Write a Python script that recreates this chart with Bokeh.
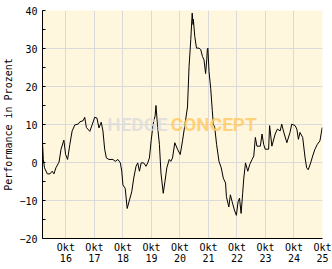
from bokeh.plotting import figure
from bokeh.models import FixedTicker, Range1d, Label
from bokeh.embed import file_html
from bokeh.resources import INLINE

# decimal years and performance in percent
years = [2015.93, 2015.96, 2016.00, 2016.10, 2016.19, 2016.27, 2016.33, 2016.40, 2016.51, 2016.58,
         2016.68, 2016.74, 2016.81, 2016.89, 2016.97, 2017.065, 2017.18, 2017.24, 2017.355, 2017.41,
         2017.47, 2017.59, 2017.68, 2017.76, 2017.84, 2017.91, 2017.99, 2018.05, 2018.11, 2018.17,
         2018.26, 2018.40, 2018.48, 2018.575, 2018.66, 2018.71, 2018.75, 2018.83, 2018.90, 2018.98,
         2019.06, 2019.13, 2019.21, 2019.27, 2019.33, 2019.39, 2019.48, 2019.56, 2019.62, 2019.68,
         2019.74, 2019.81, 2019.88, 2019.91, 2019.97, 2020.03, 2020.085, 2020.165, 2020.225, 2020.29,
         2020.375, 2020.43, 2020.49, 2020.57, 2020.665, 2020.76, 2020.84, 2020.92, 2021.015, 2021.07,
         2021.13, 2021.18, 2021.21, 2021.22, 2021.27, 2021.33, 2021.42, 2021.48, 2021.54, 2021.595,
         2021.65, 2021.69, 2021.71, 2021.73, 2021.77, 2021.83, 2021.885, 2021.92, 2021.97, 2022.035,
         2022.12, 2022.20, 2022.27, 2022.35, 2022.38, 2022.465, 2022.52, 2022.58, 2022.66, 2022.73,
         2022.79, 2022.84, 2022.895, 2022.95, 2022.99, 2023.05, 2023.13, 2023.20, 2023.28, 2023.34,
         2023.395, 2023.45, 2023.57, 2023.63, 2023.685, 2023.74, 2023.86, 2023.895, 2023.975, 2024.09,
         2024.17, 2024.265, 2024.32, 2024.38, 2024.50, 2024.61, 2024.67, 2024.79, 2024.85, 2024.905,
         2024.96, 2025.055, 2025.14, 2025.195, 2025.25, 2025.335, 2025.405, 2025.485, 2025.57, 2025.66,
         2025.74]
perf = [5.2, 0.8, -1.4, -3.0, -3.0, -2.3, -3.0, -1.4, 0.1, 3.5,
        5.9, 2.1, 0.8, 4.8, 8.3, 9.9, 10.1, 10.7, 11.0, 11.9,
        9.2, 8.2, 10.1, 11.9, 11.7, 9.1, 10.6, 8.3, 3.5, 1.2,
        0.8, 0.8, 0.3, 0.8, -0.1, -2.3, -5.9, -6.8, -12.1, -9.9,
        -7.7, -4.1, -1.0, -0.1, -2.3, -0.1, -0.1, -1.0, -0.1, 1.2,
        5.7, 10.1, 12.3, 15.0, 9.2, 4.8, -2.8, -8.1, -5.0, -1.4,
        0.8, 0.3, 1.2, 5.2, 3.5, 2.1, 5.7, 9.7, 14.6, 25.2,
        32.3, 39.3, 36.3, 37.7, 33.2, 30.1, 30.1, 29.7, 27.9, 27.0,
        23.4, 27.0, 29.7, 30.1, 23.9, 19.4, 13.7, 10.1, 9.2, 4.8,
        0.3, -1.4, -4.1, -5.4, -9.0, -11.7, -8.5, -10.3, -12.5, -13.9,
        -10.3, -9.4, -13.4, -8.1, -4.1, -0.1, -2.3, -0.5, 0.8, 1.7,
        6.6, 4.3, 4.3, 7.5, 4.8, 3.5, 3.5, 9.7, 4.3, 7.5,
        8.8, 8.3, 10.1, 8.3, 5.2, 7.9, 10.1, 9.7, 8.8, 6.1,
        7.9, 6.6, 1.2, -1.4, -1.9, -0.1, 1.7, 3.5, 4.8, 5.7,
        9.2]

x_ticks = [2016.75, 2017.75, 2018.75, 2019.75, 2020.75, 2021.75, 2022.75, 2023.75, 2024.75, 2025.75]
x_labels = ["Okt\n16", "Okt\n17", "Okt\n18", "Okt\n19", "Okt\n20",
            "Okt\n21", "Okt\n22", "Okt\n23", "Okt\n24", "Okt\n25"]
y_ticks = [-20, -10, 0, 10, 20, 30, 40]
y_minor = [-15, -5, 5, 15, 25, 35]
y_title = "Performance in Prozent"

FONT = "DejaVu Sans Mono"

p = figure(width=332, height=269, output_backend="svg", toolbar_location=None,
           x_range=Range1d(years[0], x_ticks[-1]), y_range=Range1d(-20, 40),
           min_border_left=41, min_border_right=10, min_border_top=10, min_border_bottom=31)
p.background_fill_color = "#FFF6DE"
p.border_fill_color = "white"
p.outline_line_color = None

p.xaxis.ticker = FixedTicker(ticks=x_ticks)
p.xaxis.major_label_overrides = dict(zip(x_ticks, x_labels))
p.yaxis.ticker = FixedTicker(ticks=y_ticks, minor_ticks=y_minor)
p.yaxis.axis_label = y_title

for ax in (p.xaxis, p.yaxis):
    ax.axis_line_color = "black"
    ax.axis_line_width = 1
    ax.major_label_text_font = FONT
    ax.major_label_text_font_size = "10px"
    ax.major_label_text_color = "black"
    ax.axis_label_text_font = FONT
    ax.axis_label_text_font_size = "10px"
    ax.axis_label_text_font_style = "normal"
    ax.axis_label_text_color = "black"

p.xaxis.major_tick_line_color = None
p.xaxis.minor_tick_line_color = None
p.xaxis.major_tick_in = 0
p.xaxis.major_tick_out = 0
p.xaxis.minor_tick_in = 0
p.xaxis.minor_tick_out = 0
p.xaxis.major_label_standoff = 3
p.xaxis.major_label_text_line_height = 1.0
p.yaxis.major_tick_in = 3
p.yaxis.major_tick_out = 0
p.yaxis.minor_tick_in = 3
p.yaxis.minor_tick_out = 0
p.yaxis.major_tick_line_color = "black"
p.yaxis.minor_tick_line_color = "black"
p.yaxis.major_label_standoff = 5
p.yaxis.axis_label_standoff = 2

p.xgrid.grid_line_color = "#DADADA"
p.ygrid.grid_line_color = "#DADADA"
p.xgrid.grid_line_width = 1
p.ygrid.grid_line_width = 1

# watermark
p.add_layout(Label(x=2018.2, y=9.9, text="HEDGE", text_font="Roboto",
                   text_font_style="bold", text_font_size="19px", text_color="#DCDCDC",
                   text_alpha=0.8, text_baseline="middle", text_align="left"))
p.add_layout(Label(x=2020.43, y=9.9, text="CONCEPT", text_font="Roboto",
                   text_font_style="bold", text_font_size="19px", text_color="#FFCB66",
                   text_alpha=0.85, text_baseline="middle", text_align="left"))

p.line(years, perf, line_color="black", line_width=1)

open("out.html", "w").write(file_html(p, INLINE))
